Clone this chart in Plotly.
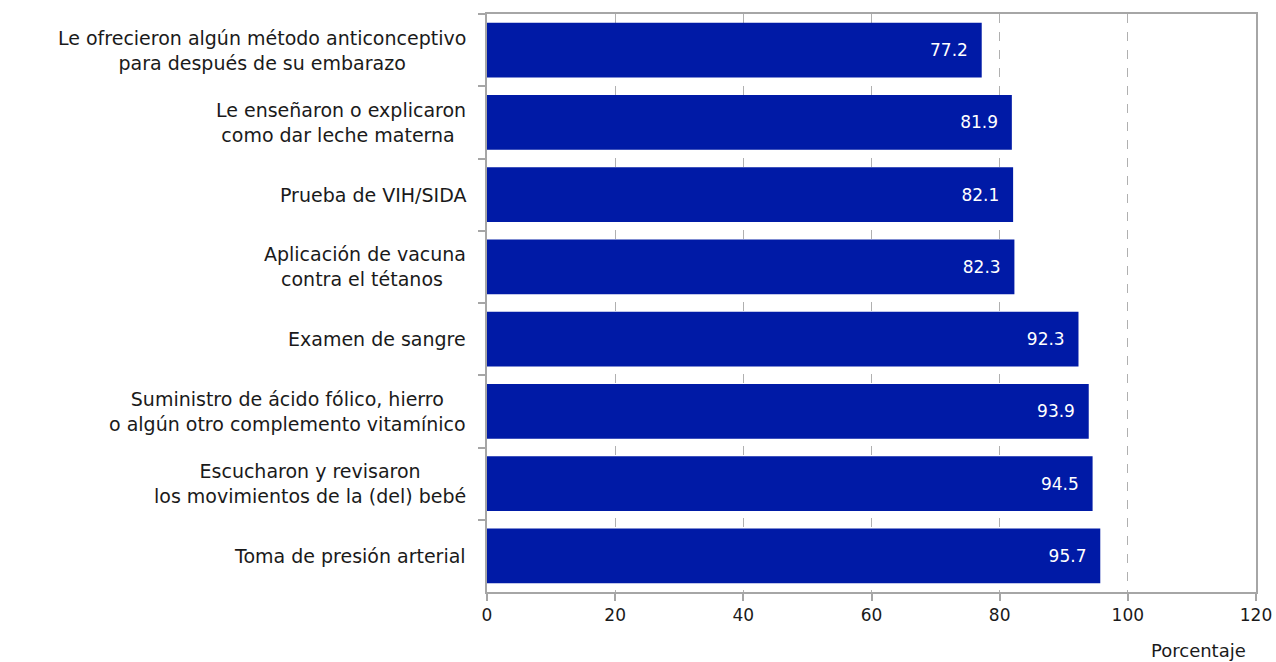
import plotly.graph_objects as go

categories = [
    "Le ofrecieron algún método anticonceptivo<br>para después de su embarazo",
    "Le enseñaron o explicaron<br>como dar leche materna ",
    "Prueba de VIH/SIDA",
    "Aplicación de vacuna<br>contra el tétanos ",
    "Examen de sangre",
    "Suministro de ácido fólico, hierro<br>o algún otro complemento vitamínico",
    "Escucharon y revisaron<br>los movimientos de la (del) bebé",
    "Toma de presión arterial",
]
values = [77.2, 81.9, 82.1, 82.3, 92.3, 93.9, 94.5, 95.7]
x_ticks = [0, 20, 40, 60, 80, 100, 120]
x_title = "Porcentaje"

FONT = "DejaVu Sans"
BAR = "#001AA6"
AXIS = "#A6A6A6"

fig = go.Figure()
fig.add_trace(go.Bar(
    y=categories, x=values, orientation="h",
    marker=dict(color=BAR, line=dict(width=0)),
    texttemplate="%{x:.1f}\u00a0\u00a0",
    textposition="inside", insidetextanchor="end",
    textfont=dict(family=FONT, size=17, color="white"),
    hoverinfo="skip",
))

for c in categories:
    fig.add_annotation(
        x=0, xref="paper", y=c, yref="y", text=c, showarrow=False,
        xanchor="right", yanchor="middle", align="center", xshift=-19,
        font=dict(family=FONT, size=19, color="#1a1a1a"),
    )

fig.add_annotation(
    x=1, xref="paper", y=0, yref="paper", text=x_title, showarrow=False,
    xanchor="right", yanchor="middle", xshift=-8, yshift=-58,
    font=dict(family=FONT, size=18, color="#1a1a1a"),
)

fig.update_layout(
    autosize=False,
    width=1276, height=662,
    margin=dict(l=487, r=20, t=14, b=70, autoexpand=False),
    paper_bgcolor="white", plot_bgcolor="white",
    bargap=0.24, showlegend=False,
    xaxis=dict(
        range=[0, 120], tickvals=x_ticks, showgrid=True,
        gridcolor="#B0B0B0", griddash="dash", gridwidth=1,
        showline=True, linecolor=AXIS, linewidth=1.5, mirror=True,
        ticks="outside", ticklen=7, tickcolor=AXIS, tickwidth=1.5,
        tickfont=dict(family=FONT, size=17, color="#1a1a1a"),
        zeroline=False, fixedrange=True, automargin=False,
    ),
    yaxis=dict(
        autorange="reversed", showticklabels=False,
        tickson="boundaries", ticks="outside", ticklen=7,
        tickcolor=AXIS, tickwidth=1.5, showgrid=False,
        showline=True, linecolor=AXIS, linewidth=1.5, mirror=True,
        fixedrange=True, automargin=False,
    ),
)

fig.write_html(
    "out.html",
    config={"displayModeBar": False, "responsive": False},
    post_script="document.body.style.margin='0';document.body.style.overflow='hidden';",
)
